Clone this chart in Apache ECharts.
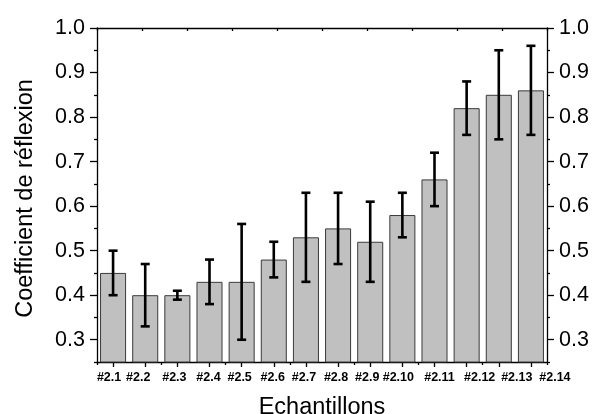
<!DOCTYPE html>
<html>
<head>
<meta charset="utf-8">
<script src="https://cdn.jsdelivr.net/npm/echarts@6/dist/echarts.min.js"></script>
<style>html,body{margin:0;padding:0;background:#fff}#c{width:595px;height:414px}</style>
</head>
<body>
<div id="c"></div>
<script>
const categories = ['#2.1','#2.2','#2.3','#2.4','#2.5','#2.6','#2.7','#2.8','#2.9','#2.10','#2.11','#2.12','#2.13','#2.14'];
const values  = [0.45,0.40,0.40,0.43,0.43,0.48,0.53,0.55,0.52,0.58,0.66,0.82,0.85,0.86];
const errLow  = [0.40,0.33,0.39,0.38,0.30,0.44,0.43,0.47,0.43,0.53,0.60,0.76,0.75,0.76];
const errHigh = [0.50,0.47,0.41,0.48,0.56,0.52,0.63,0.63,0.61,0.63,0.72,0.88,0.95,0.96];
const yMajorTicks = [0.3,0.4,0.5,0.6,0.7,0.8,0.9,1.0];
const yMinorTicks = [0.25,0.35,0.45,0.55,0.65,0.75,0.85,0.95];

// layout: horizontal shift (px) of each category label, mimicking the reference's label placement
const labelShift = [-4,-7,-3,-1,-2,-1,-2,-2,-3,-4,5,13,18,24];

const FONT = 'Liberation Sans, Arial, sans-serif';
const AX = '#000';

const xData = categories.map((c, i) => {
  const s = labelShift[i];
  const pad = s >= 0 ? [0, 0, 0, 2 * s] : [0, -2 * s, 0, 0];
  return { value: c, textStyle: { padding: pad } };
});

const chart = echarts.init(document.getElementById('c'), null, { renderer: 'canvas' });

function yAxisMajor(pos, withName) {
  return {
    type: 'value', position: pos, min: 0.25, max: 1.0,
    name: withName ? 'Coefficient de réflexion' : '',
    nameLocation: 'middle', nameGap: 59, nameRotate: 90,
    nameTextStyle: { fontFamily: FONT, fontSize: 23.5, color: '#000', padding: [0, 7, 0, 0] },
    axisLine: { show: true, lineStyle: { color: AX, width: 1.3 } },
    axisTick: { show: true, inside: false, length: 7, customValues: yMajorTicks, lineStyle: { color: AX, width: 1.3 } },
    axisLabel: { show: true, customValues: yMajorTicks, margin: 12, fontFamily: FONT, fontSize: 21.5, color: '#000',
                 formatter: v => v.toFixed(1) },
    splitLine: { show: false }
  };
}
function yAxisMinor(pos) {
  return {
    type: 'value', position: pos, min: 0.25, max: 1.0,
    axisLine: { show: false },
    axisTick: { show: true, inside: false, length: 3, customValues: yMinorTicks, lineStyle: { color: AX, width: 1.3 } },
    axisLabel: { show: false },
    splitLine: { show: false }
  };
}

const option = {
  animation: false,
  backgroundColor: '#fff',
  grid: { left: 97, right: 48, top: 28, bottom: 52, containLabel: false, outerBoundsMode: 'none' },
  xAxis: [
    {
      type: 'category', position: 'bottom', data: xData,
      name: 'Echantillons', nameLocation: 'middle', nameGap: 34,
      nameTextStyle: { fontFamily: FONT, fontSize: 23.5, color: '#000' },
      axisLine: { show: true, lineStyle: { color: AX, width: 1.3 } },
      axisTick: { show: true, alignWithLabel: true, length: 5, lineStyle: { color: AX, width: 1.3 } },
      axisLabel: { interval: 0, margin: 9, fontFamily: FONT, fontSize: 12.5, fontWeight: 'bold', color: '#000' },
      splitLine: { show: false }
    },
    {
      type: 'category', position: 'bottom', data: categories,
      axisLine: { show: false },
      axisTick: { show: true, length: 3, lineStyle: { color: AX, width: 1.3 } },
      axisLabel: { show: false },
      splitLine: { show: false }
    },
    {
      type: 'value', position: 'top', min: 0, max: 10, interval: 1,
      axisLine: { show: true, lineStyle: { color: AX, width: 1.3 } },
      axisTick: { show: true, inside: true, length: 3, lineStyle: { color: AX, width: 1.3 } },
      axisLabel: { show: false },
      splitLine: { show: false }
    }
  ],
  yAxis: [ yAxisMajor('left', true), yAxisMinor('left'), yAxisMajor('right', false), yAxisMinor('right') ],
  series: [
    {
      type: 'bar', xAxisIndex: 0, yAxisIndex: 0, data: values, barWidth: '81%',
      itemStyle: { color: '#c0c0c0', borderColor: '#3a3a3a', borderWidth: 1 }
    },
    {
      type: 'custom', xAxisIndex: 0, yAxisIndex: 0,
      data: categories.map((c, i) => [i, errLow[i], errHigh[i]]),
      encode: { x: 0, y: [1, 2] },
      renderItem: function (params, api) {
        const i = api.value(0);
        const lo = api.coord([i, api.value(1)]);
        const hi = api.coord([i, api.value(2)]);
        const hw = 4.5;
        const st = { stroke: '#000', lineWidth: 2.6, fill: null };
        return {
          type: 'group',
          children: [
            { type: 'line', shape: { x1: lo[0], y1: lo[1], x2: hi[0], y2: hi[1] }, style: st },
            { type: 'line', shape: { x1: hi[0] - hw, y1: hi[1], x2: hi[0] + hw, y2: hi[1] }, style: st },
            { type: 'line', shape: { x1: lo[0] - hw, y1: lo[1], x2: lo[0] + hw, y2: lo[1] }, style: st }
          ]
        };
      },
      z: 5
    }
  ]
};
chart.setOption(option);
</script>
</body>
</html>
